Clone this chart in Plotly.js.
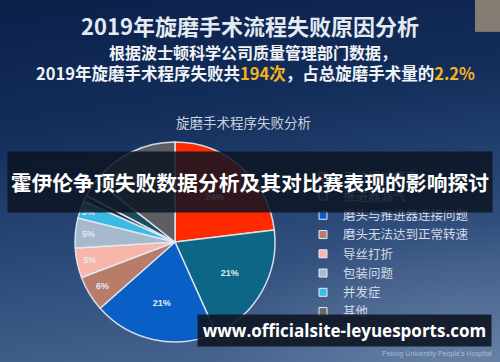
<!DOCTYPE html>
<html><head><meta charset="utf-8">
<script src="https://cdn.plot.ly/plotly-3.0.1.min.js"></script>
<style>
html,body{margin:0;padding:0;width:500px;height:362px;overflow:hidden;background:#1a3560;}
#bg{position:absolute;left:0;top:0;width:500px;height:362px;
background:radial-gradient(ellipse 260px 160px at 470px 380px, rgba(140,160,190,0.45), rgba(140,160,190,0) 100%),
linear-gradient(172deg, #0b2049 0%, #132d5a 30%, #2a4877 60%, #4f6b95 100%);}
#chart{position:absolute;left:0;top:0;width:500px;height:362px;}
</style></head><body><div id="bg"></div><div id="chart"></div>
<script>
// Pie slices, clockwise from 12 o'clock
const categories = ['无法通过病变','推进器漏气','磨头与推进器连接问题','磨头无法达到正常转速','导丝打折','包装问题','并发症',' ','  ','其他'];
const values = [24, 21, 21, 6, 5, 5, 3, 1, 3, 15];
const sliceText = ['24%','21%','21%','6%','5%','5%','3%','','','15%'];
const sliceColors = ['#ff2a00','#0d6686','#0a5fc6','#b87c6b','#f8b6aa','#a8b9cd','#3bbbe3','#2c3843','#1c4d5c','#5c5e63'];
// Legend entries (as visible in the picture)
const legendNames = ['无法通过病变','推进器漏气','磨头与推进器连接问题','磨头无法达到正常转速','导丝打折','包装问题','并发症','其他'];
const legendColors = ['#ff2a00','#0d6686','#0a5fc6','#b87c6b','#f8b6aa','#a8b9cd','#3bbbe3','#6a6866'];

const cjk = '"Noto Sans CJK SC", "Noto Sans", sans-serif';

const traces = [{
  type: 'pie',
  labels: categories,
  values: values,
  text: sliceText.map(t => t ? '<b>' + t + '</b>' : ''),
  textinfo: 'text',
  textposition: 'inside',
  insidetextorientation: 'horizontal',
  textfont: {family: '"Liberation Sans", Arial, sans-serif', size: 9, color: '#e2eaf4'},
  sort: false,
  direction: 'clockwise',
  rotation: 0,
  marker: {colors: sliceColors, line: {color: 'rgba(226,234,244,0.9)', width: 1.5}},
  domain: {x: [0.15, 0.55], y: [0.055, 0.608]},
  showlegend: false,
  hoverinfo: 'none'
}];
legendNames.forEach((n, i) => {
  traces.push({
    type: 'scatter', mode: 'markers', x: [null], y: [null], name: n,
    marker: {symbol: 'square', size: 8, color: legendColors[i], line: {color: '#e8eef5', width: 1}},
    showlegend: true, hoverinfo: 'none'
  });
});

const layout = {
  width: 500, height: 362,
  margin: {l: 0, r: 0, t: 0, b: 0},
  paper_bgcolor: 'rgba(0,0,0,0)',
  plot_bgcolor: 'rgba(0,0,0,0)',
  xaxis: {visible: false},
  yaxis: {visible: false},
  showlegend: true,
  legend: {
    x: 0.606, y: 0.552, xanchor: 'left', yanchor: 'top',
    bgcolor: 'rgba(0,0,0,0)', tracegroupgap: 0,
    font: {family: cjk, size: 12.5, color: '#d4dbe6'}
  },
  shapes: [
    {type: 'rect', xref: 'paper', yref: 'paper', x0: 0.95, x1: 1, y0: 0.912, y1: 1,
     fillcolor: '#857c73', line: {width: 0}, layer: 'below'}
  ],
  annotations: [
    {xref: 'paper', yref: 'paper', x: 0.5, y: 1 - 25/362, xanchor: 'center', yanchor: 'middle', showarrow: false,
     text: '<b>2019年旋磨手术流程失败原因分析</b>', font: {family: cjk, size: 22, color: '#e4eaf2'}},
    {xref: 'paper', yref: 'paper', x: 0.505, y: 1 - 52/362, xanchor: 'center', yanchor: 'middle', showarrow: false,
     text: '<b>根据波士顿科学公司质量管理部门数据，</b>', font: {family: cjk, size: 16, color: '#f0f3f7'}},
    {xref: 'paper', yref: 'paper', x: 0.51, y: 1 - 73/362, xanchor: 'center', yanchor: 'middle', showarrow: false,
     text: '<b>2019年旋磨手术程序失败共<span style="color:#f3b41c">194次</span>，占总旋磨手术量的<span style="color:#f3b41c">2.2%</span></b>',
     font: {family: cjk, size: 16.5, color: '#f0f3f7'}},
    {xref: 'paper', yref: 'paper', x: 0.487, y: 1 - 122/362, xanchor: 'center', yanchor: 'middle', showarrow: false,
     text: '旋磨手术程序失败分析', font: {family: cjk, size: 13.5, color: '#c8d1dd'}},
    {xref: 'paper', yref: 'paper', x: 0.5, y: 1 - 182/362, xanchor: 'center', yanchor: 'middle', showarrow: false,
     width: 484, height: 60, bgcolor: 'rgba(12,20,34,0.85)', borderpad: 0,
     text: '<b>霍伊伦争顶失败数据分析及其对比赛表现的影响探讨</b>', font: {family: cjk, size: 20.8, color: '#ffffff'}},
    {xref: 'paper', yref: 'paper', x: 689/1000, y: 1 - 330.5/362, xanchor: 'center', yanchor: 'middle', showarrow: false,
     width: 293, height: 31, bgcolor: 'rgba(14,22,36,0.9)', borderpad: 0,
     text: '<b>www.officialsite-leyuesports.com</b>', font: {family: '"Open Sans", "Noto Sans", sans-serif', size: 17, color: '#ffffff'}},
    {xref: 'paper', yref: 'paper', x: 0.988, y: 1 - 354/362, xanchor: 'right', yanchor: 'middle', showarrow: false,
     text: "Peking University People's Hospital", font: {family: '"Liberation Sans", Arial, sans-serif', size: 7, color: 'rgba(200,210,225,0.75)'}}
  ]
};

Plotly.newPlot('chart', traces, layout, {staticPlot: true, displayModeBar: false});
</script>
</body></html>
